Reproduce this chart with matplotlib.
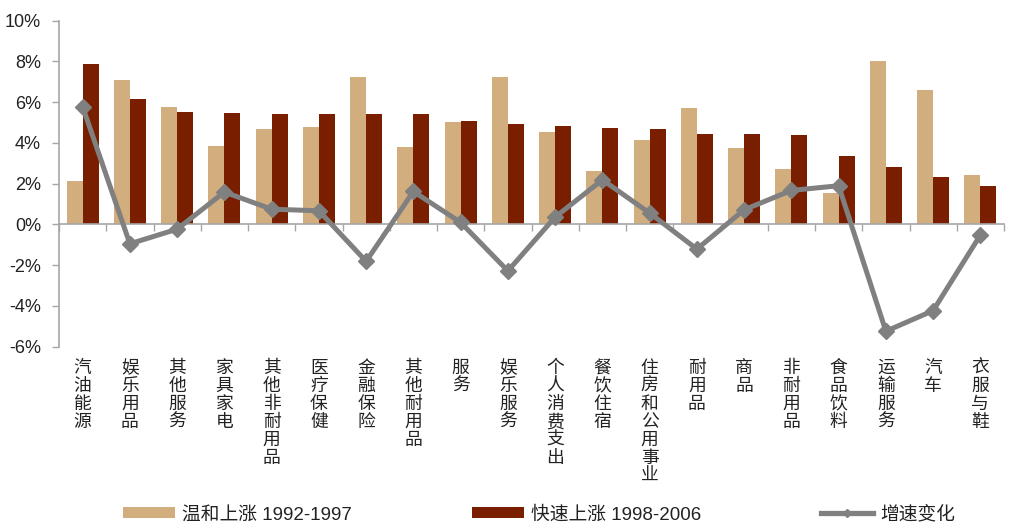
import matplotlib
matplotlib.use("Agg")
import matplotlib.pyplot as plt
from matplotlib.ticker import FuncFormatter, FixedLocator
from matplotlib.lines import Line2D
from matplotlib.patches import Patch
import matplotlib.transforms as mtransforms
import numpy as np

plt.rcParams['font.family'] = ['Liberation Sans', 'Noto Sans CJK SC', 'DejaVu Sans']

categories = ["汽油能源", "娱乐用品", "其他服务", "家具家电", "其他非耐用品", "医疗保健",
              "金融保险", "其他耐用品", "服务", "娱乐服务", "个人消费支出", "餐饮住宿",
              "住房和公用事业", "耐用品", "商品", "非耐用品", "食品饮料", "运输服务",
              "汽车", "衣服与鞋"]
mild_1992_1997 = [2.13, 7.08, 5.74, 3.87, 4.69, 4.79, 7.22, 3.79, 5.02, 7.25,
                  4.54, 2.60, 4.15, 5.71, 3.73, 2.73, 1.54, 8.04, 6.60, 2.45]
fast_1998_2006 = [7.89, 6.15, 5.54, 5.46, 5.44, 5.43, 5.43, 5.43, 5.08, 4.94,
                  4.85, 4.75, 4.68, 4.46, 4.43, 4.41, 3.38, 2.81, 2.34, 1.88]
growth_change = [5.78, -0.95, -0.23, 1.59, 0.75, 0.67, -1.81, 1.62, 0.10, -2.28,
                 0.36, 2.19, 0.56, -1.21, 0.72, 1.67, 1.90, -5.24, -4.23, -0.52]
yticks = [-6, -4, -2, 0, 2, 4, 6, 8, 10]
legend_labels = ["温和上涨 1992-1997", "快速上涨 1998-2006", "增速变化"]

c_tan = "#D2AE7E"
c_dark = "#7A1E00"
c_line = "#808080"
c_axis = "#A6A6A6"

fig = plt.figure(figsize=(10.24, 5.32), dpi=100)
ax = fig.add_axes([59/1024, 185.3/532, 945/1024, 326/532])

x = np.arange(len(categories))
w = 0.34
ax.bar(x - w/2, mild_1992_1997, width=w, color=c_tan, zorder=2)
ax.bar(x + w/2, fast_1998_2006, width=w, color=c_dark, zorder=2)
ax.plot(x, growth_change, color=c_line, lw=3.6, marker='D', ms=8.5,
        markerfacecolor=c_line, markeredgecolor=c_line, zorder=4)

ax.set_xlim(-0.5, len(categories) - 0.5)
ax.set_ylim(-6, 10)
ax.set_yticks(yticks)
ax.yaxis.set_major_formatter(FuncFormatter(lambda v, p: f"{v:.0f}%"))
ax.tick_params(axis='y', direction='out', length=5, width=1, color=c_axis,
               labelsize=13, pad=8, labelcolor="#222222")

for s in ['top', 'right']:
    ax.spines[s].set_visible(False)
ax.spines['left'].set_color(c_axis)
ax.spines['left'].set_linewidth(1.2)
ax.spines['bottom'].set_position(('data', 0))
ax.spines['bottom'].set_color(c_axis)
ax.spines['bottom'].set_linewidth(1.2)
ax.xaxis.set_major_locator(FixedLocator(np.arange(len(categories) + 1) - 0.5))
ax.tick_params(axis='x', direction='out', length=5, width=1, color=c_axis,
               labelbottom=False)

trans = mtransforms.blended_transform_factory(ax.transData, ax.transAxes)
for i, name in enumerate(categories):
    ax.text(x[i], -0.038, "\n".join(name), transform=trans, ha='center', va='top',
            fontsize=12.8, linespacing=1.0, color="#222222",
            family=['Noto Sans CJK SC', 'DejaVu Sans'])

handles = [Patch(facecolor=c_tan, edgecolor='none'),
           Patch(facecolor=c_dark, edgecolor='none'),
           Line2D([], [], color=c_line, lw=3.8, marker='D', ms=4.5)]
fig.legend(handles, legend_labels, loc='center', bbox_to_anchor=(0.5264, 0.033),
           ncol=3, frameon=False, fontsize=13.5, handlelength=2.77, handleheight=0.55,
           handletextpad=0.37, columnspacing=6.4, labelcolor="#222222")

fig.savefig("out.png", dpi=100)
